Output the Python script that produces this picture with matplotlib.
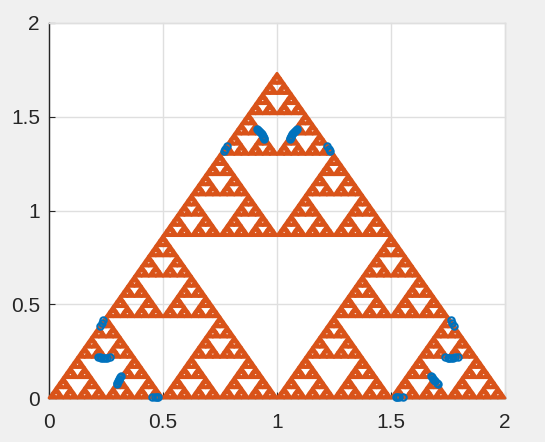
import numpy as np
import matplotlib
matplotlib.use("Agg")
import matplotlib.pyplot as plt
from matplotlib.collections import PolyCollection

plt.rcParams['font.family'] = ['Liberation Sans', 'DejaVu Sans']

# Outer triangle of the gasket and its recursion depth
apex_x = [0.0, 2.0, 1.0]
apex_y = [0.0, 0.0, 1.732]
depth = 6

# Blue circles
blue_x = [0.914, 0.918, 0.922, 0.926, 0.930, 0.934, 0.937, 0.940, 0.942, 0.943,
          1.086, 1.082, 1.078, 1.074, 1.070, 1.066, 1.063, 1.060, 1.058, 1.057,
          0.766, 0.774, 0.782, 1.218, 1.226, 1.234,
          0.237, 0.231, 0.224,
          0.215, 0.222, 0.230, 0.238, 0.246, 0.254, 0.268,
          0.316, 0.312, 0.309, 0.306, 0.303, 0.300, 0.298,
          0.450, 0.465, 0.474, 0.480,
          1.763, 1.769, 1.776,
          1.737, 1.748, 1.756, 1.764, 1.772, 1.780, 1.794,
          1.675, 1.680, 1.685, 1.690, 1.695, 1.701, 1.706,
          1.521, 1.528, 1.536, 1.553]
blue_y = [1.435, 1.428, 1.423, 1.418, 1.412, 1.406, 1.400, 1.394, 1.388, 1.382,
          1.435, 1.428, 1.423, 1.418, 1.412, 1.406, 1.400, 1.394, 1.388, 1.382,
          1.315, 1.330, 1.345, 1.345, 1.330, 1.315,
          0.416, 0.400, 0.384,
          0.219, 0.217, 0.216, 0.215, 0.215, 0.216, 0.220,
          0.117, 0.110, 0.103, 0.096, 0.089, 0.082, 0.075,
          0.005, 0.005, 0.005, 0.005,
          0.416, 0.400, 0.384,
          0.220, 0.216, 0.215, 0.215, 0.216, 0.217, 0.219,
          0.117, 0.110, 0.103, 0.096, 0.089, 0.082, 0.075,
          0.005, 0.005, 0.005, 0.005]


def gasket(tri, level):
    if level == 0:
        return [tri]
    a, b, c = tri
    ab, bc, ca = (a + b) / 2, (b + c) / 2, (c + a) / 2
    return (gasket(np.array([a, ab, ca]), level - 1)
            + gasket(np.array([ab, b, bc]), level - 1)
            + gasket(np.array([ca, bc, c]), level - 1))


fig = plt.figure(figsize=(5.45, 4.42), dpi=100, facecolor='#F0F0F0')
ax = fig.add_axes([49 / 545, (442 - 398) / 442, 456 / 545, 375 / 442])
ax.set_facecolor('white')

tris = gasket(np.column_stack([apex_x, apex_y]), depth)
ax.add_collection(PolyCollection(tris, facecolors='#D95319', edgecolors='#D95319',
                                 linewidths=2.0, zorder=3, clip_on=False))
ax.plot(blue_x, blue_y, linestyle='none', marker='o', markersize=4.6,
        markerfacecolor='none', markeredgecolor='#0072BD', markeredgewidth=1.5,
        zorder=4, clip_on=False)

ax.set_xlim(0, 2)
ax.set_ylim(0, 2)
ax.set_xticks([0, 0.5, 1, 1.5, 2])
ax.set_xticklabels(['0', '0.5', '1', '1.5', '2'])
ax.set_yticks([0, 0.5, 1, 1.5, 2])
ax.set_yticklabels(['0', '0.5', '1', '1.5', '2'])
ax.grid(True, color='#DFDFDF', linewidth=1.0, zorder=0, clip_on=False)
ax.set_axisbelow(True)
ax.tick_params(direction='in', length=4, width=0.8, color='#262626',
               labelcolor='#262626', labelsize=15)
ax.tick_params(axis='x', pad=10.5)
ax.tick_params(axis='y', pad=6.5)
for side in ('top', 'right'):
    ax.spines[side].set_color('#DFDFDF')
    ax.spines[side].set_linewidth(1.0)
for side in ('left', 'bottom'):
    ax.spines[side].set_color('#262626')
    ax.spines[side].set_linewidth(1.0)

fig.savefig('out.png', dpi=100, facecolor=fig.get_facecolor())
